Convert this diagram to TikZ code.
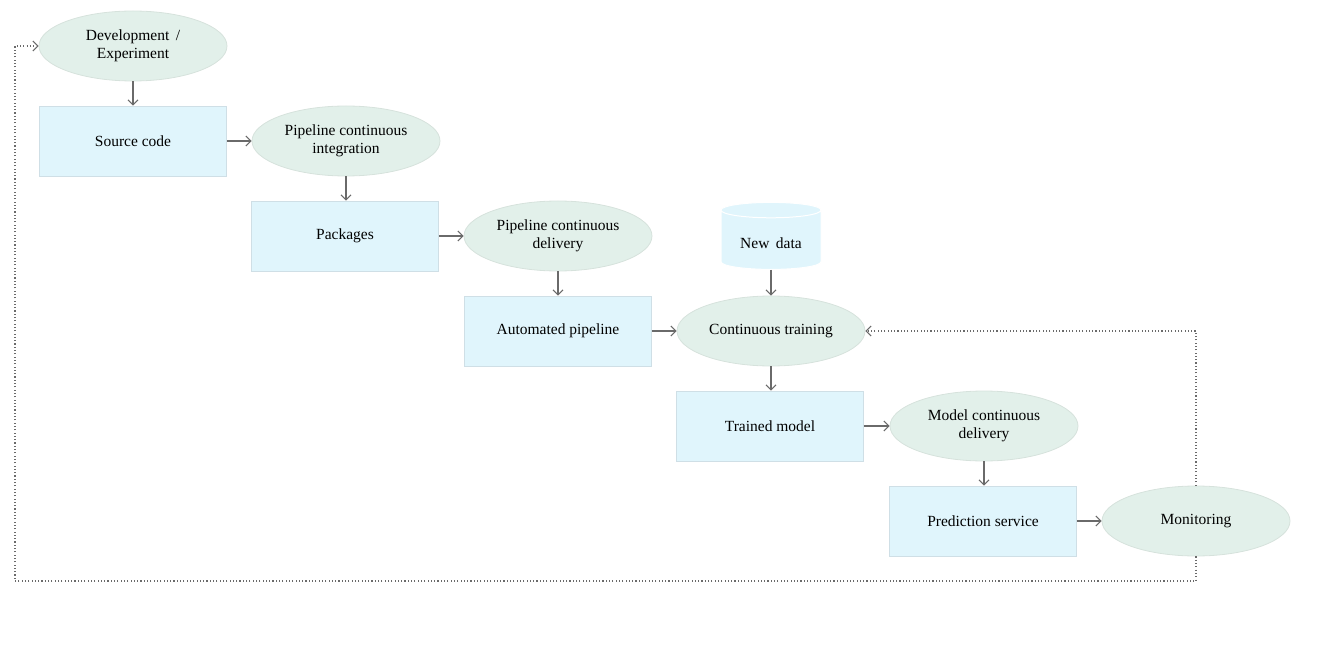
\documentclass[tikz,border=0pt]{standalone}
\usepackage{fontspec}
\setmainfont{Liberation Serif}
\usetikzlibrary{shapes.geometric,arrows.meta}
\definecolor{ellfill}{HTML}{E2F0EA}
\definecolor{ellline}{HTML}{D6E2DC}
\definecolor{boxfill}{HTML}{E0F5FC}
\definecolor{boxline}{HTML}{CFDFE6}
\definecolor{conn}{HTML}{6A6A6A}
\tikzset{
  txt/.style={font=\fontsize{15.5}{18.5}\selectfont},
  ell/.style={txt, ellipse, fill=ellfill, draw=ellline, line width=0.8pt, minimum width=188pt, minimum height=70pt, inner sep=0pt, align=center},
  boxn/.style={txt, rectangle, fill=boxfill, draw=boxline, line width=0.8pt, minimum width=187pt, minimum height=70pt, inner sep=0pt, align=center},
  db/.style={txt, cylinder, shape border rotate=90, aspect=0.25, fill=boxfill, draw=white, line width=1pt, minimum width=100pt, minimum height=67pt, inner sep=0pt, align=center},
  arr/.style={draw=conn, line width=1.1pt, -{Straight Barb[length=5pt,width=10pt]}},
  fb/.style={draw=conn, line width=1.1pt, dash pattern=on 1.1pt off 2.2pt, -{Straight Barb[length=5pt,width=10pt]}}
}
\begin{document}
\begin{tikzpicture}[x=1pt,y=-1pt]
\useasboundingbox (0,0) rectangle (1332,660);
\node[ell]  (dev)  at (133,46)  {Development \,/\\Experiment};
\node[boxn] (src)  at (133,141) {Source code};
\node[ell]  (pci)  at (346,141) {Pipeline continuous\\integration};
\node[boxn] (pkg)  at (345,236) {Packages};
\node[ell]  (pcd)  at (558,236) {Pipeline continuous\\delivery};
\node[boxn] (auto) at (558,331) {Automated pipeline};
\node[db]   (data) at (771,240) {\raisebox{-9pt}[0pt][0pt]{New\, data}};
\node[ell]  (ct)   at (771,331) {Continuous training};
\node[boxn] (tm)   at (770,426) {Trained model};
\node[ell]  (mcd)  at (984,426) {Model continuous\\delivery};
\node[boxn] (ps)   at (983,521) {Prediction service};
\node[ell]  (mon)  at (1196,521) {Monitoring};

\draw[arr] (dev) -- (src);
\draw[arr] (src) -- (pci);
\draw[arr] (pci.south -| 346,0) -- (pkg.north -| 346,0);
\draw[arr] (pkg) -- (pcd);
\draw[arr] (pcd) -- (auto);
\draw[arr] (auto) -- (ct);
\draw[arr] (data) -- (ct);
\draw[arr] (ct) -- (tm.north -| ct);
\draw[arr] (tm) -- (mcd);
\draw[arr] (mcd) -- (ps.north -| mcd);
\draw[arr] (ps) -- (mon);

\coordinate (c1) at (1196,331);
\coordinate (c2) at (1196,581);
\coordinate (c3) at (15,581);
\coordinate (c4) at (15,46);
\draw[fb] (mon.north) -- (c1) -- (ct.east);
\draw[fb] (mon.south) -- (c2) -- (c3) -- (c4) -- (dev.west);
\end{tikzpicture}
\end{document}
